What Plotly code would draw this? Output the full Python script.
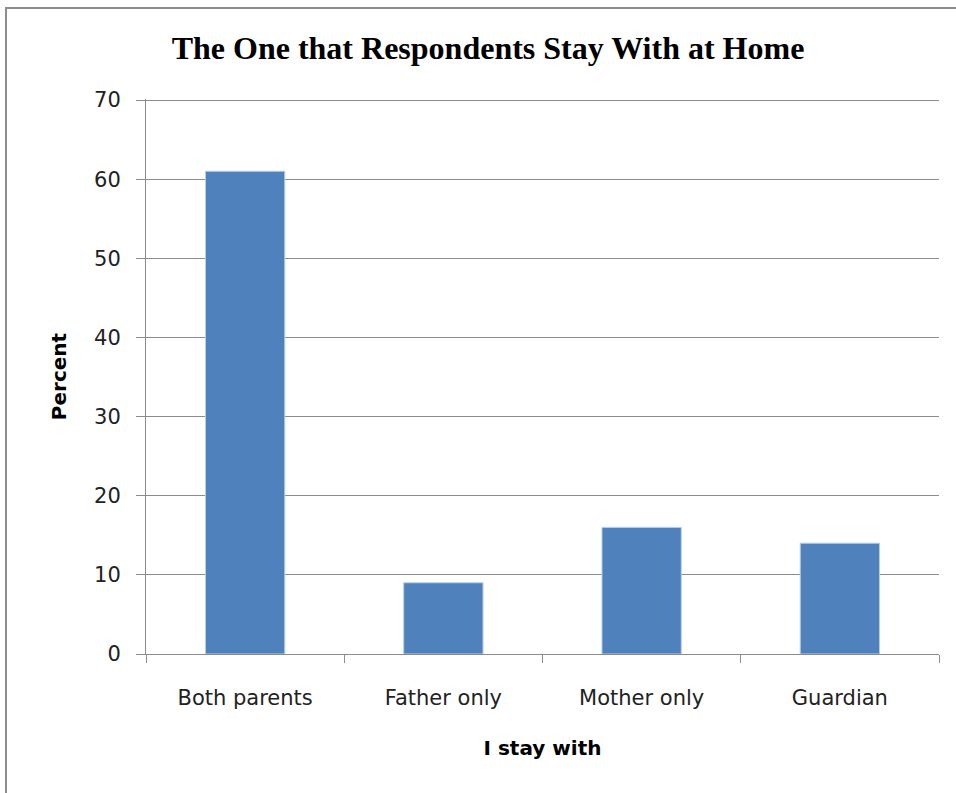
import plotly.graph_objects as go

categories = ["Both parents", "Father only", "Mother only", "Guardian"]
percent = [61, 9, 16, 14]
y_ticks = [0, 10, 20, 30, 40, 50, 60, 70]

W, H = 956, 793
L, R, T, B = 146, 17, 99, 139
pw = W - L - R
ph = H - T - B

fig = go.Figure(go.Bar(
    x=categories, y=percent,
    marker=dict(color="#4F81BD", line=dict(color="#B9CDE5", width=1)),
    width=0.4,
))

grid = "#8C8C8C"
tickfont = dict(family="DejaVu Sans", size=21, color="#222")
fig.update_layout(
    width=W, height=H,
    margin=dict(l=L, r=R, t=T, b=B),
    paper_bgcolor="white", plot_bgcolor="white",
    showlegend=False,
    title=dict(text="<b>The One that Respondents Stay With at Home</b>",
               font=dict(family="Liberation Serif", size=32, color="black"),
               x=488 / W, xanchor="center", y=1 - 48 / H, yanchor="middle"),
    xaxis=dict(
        type="category", tickson="boundaries", ticks="outside", ticklen=8,
        tickcolor=grid, showline=True, linecolor=grid, linewidth=1,
        showgrid=False, range=[-0.5, 3.5], ticklabelstandoff=25,
        tickfont=tickfont,
        title=dict(text="<b>I stay with</b>", standoff=31,
                   font=dict(family="DejaVu Sans", size=20, color="black")),
    ),
    yaxis=dict(
        range=[0, 70.13], tickvals=y_ticks, ticks="outside", ticklen=9,
        tickcolor=grid, showline=True, linecolor=grid, linewidth=1,
        showgrid=True, gridcolor=grid, gridwidth=1, zeroline=False,
        ticklabelstandoff=11,
        tickfont=tickfont,
        title=dict(text="<b>Percent</b>", standoff=22,
                   font=dict(family="DejaVu Sans", size=20, color="black")),
    ),
)

# outer chart border (right and bottom edges fall outside the picture)
fig.add_shape(type="rect", xref="paper", yref="paper",
              x0=(6 - L) / pw, x1=(W + 20 - L) / pw,
              y0=-(B + 20) / ph, y1=(H - B - 8) / ph,
              line=dict(color="#8C8C8C", width=2), fillcolor="rgba(0,0,0,0)",
              layer="below")

fig.write_html("out.html")
